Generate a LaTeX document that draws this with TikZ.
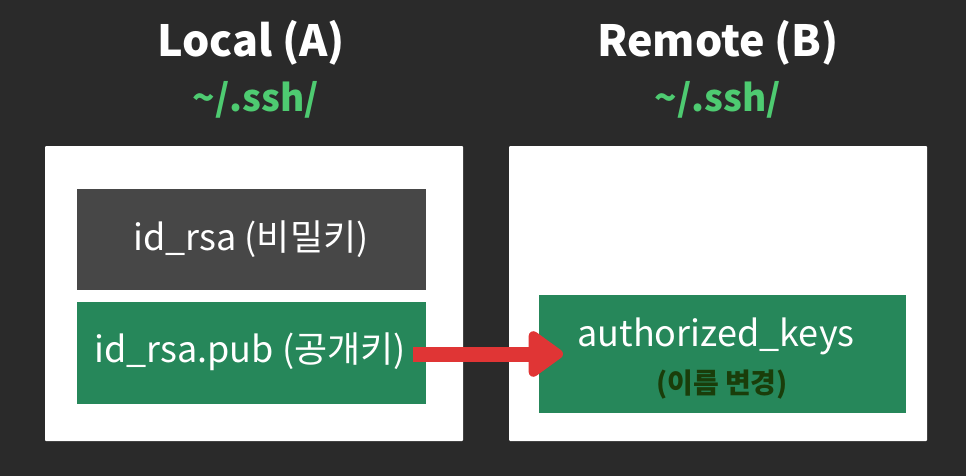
\documentclass[tikz,border=0pt]{standalone}
\usepackage{fontspec}
\setmainfont{Noto Sans CJK KR}
\usetikzlibrary{arrows.meta}
\definecolor{bg}{HTML}{2A2A2A}
\definecolor{darkbox}{HTML}{474747}
\definecolor{keygreen}{HTML}{26875A}
\definecolor{pathgreen}{HTML}{4ECB71}
\definecolor{arrowred}{HTML}{E03535}
\definecolor{notegreen}{HTML}{1A3D0A}
\tikzset{
  panel/.style={fill=white, draw=none, rounded corners=1pt},
  keybox/.style={fill=keygreen, draw=none, text=white},
  privbox/.style={fill=darkbox, draw=none, text=white},
  title/.style={text=white, font=\fontsize{43}{48}\selectfont\bfseries},
  pathlbl/.style={text=pathgreen, font=\fontsize{37}{42}\selectfont\bfseries},
  keytext/.style={font=\fontsize{36}{42}\selectfont},
}
\begin{document}
\begin{tikzpicture}[x=1pt,y=-1pt]
\fill[bg] (0,0) rectangle (966,476);
\useasboundingbox (0,0) rectangle (966,476);
% titles
\node[title] (tA) at (251,43) {Local (A)};
\node[title] (tB) at (718,43) {Remote (B)};
\node[pathlbl] (pA) at (256,100) {\textasciitilde/.ssh/};
\node[pathlbl] (pB) at (718,100) {\textasciitilde/.ssh/};
% panels
\path[panel] (45,146) rectangle (463,441);
\path[panel] (509,146) rectangle (927,441);
% key boxes
\path[privbox] (77,189) rectangle (426,290);
\node[text=white, keytext] (priv) at (251,239) {id\_rsa (비밀키)};
\path[keybox] (77,302) rectangle (426,404);
\node[text=white, keytext] (pub) at (250,352) {id\_rsa.pub (공개키)};
\path[keybox] (539,295) rectangle (906,413);
\node[text=white, keytext] (auth) at (716,336) {authorized\_keys};
\node[text=notegreen, font=\fontsize{28}{32}\selectfont\bfseries] (note) at (722,385) {(이름 변경)};
% arrow
\coordinate (s) at (413,354);
\coordinate (e) at (563,354);
\draw[arrowred, line width=15pt, -{Triangle[length=38pt,width=52pt,round]}] (s) -- (e);
\end{tikzpicture}
\end{document}
